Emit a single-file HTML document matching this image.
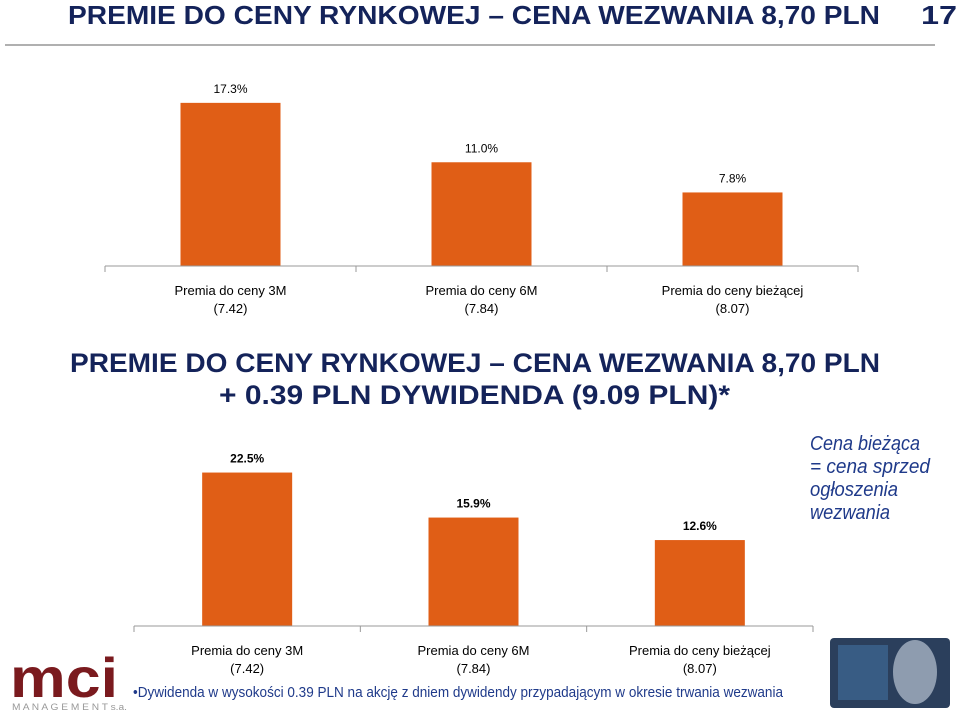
<!DOCTYPE html>
<html><head><meta charset="utf-8">
<style>
html,body{margin:0;padding:0;background:#fff;}
svg{display:block;font-family:"Liberation Sans",sans-serif;}
</style></head>
<body>
<svg id="slide" width="960" height="715" viewBox="0 0 960 715">
  <text x="68" y="24" font-size="26" font-weight="bold" fill="#14235a" textLength="812" lengthAdjust="spacingAndGlyphs">PREMIE DO CENY RYNKOWEJ – CENA WEZWANIA 8,70 PLN</text>
  <text x="921" y="24" font-size="26" font-weight="bold" fill="#14235a" textLength="36" lengthAdjust="spacingAndGlyphs">17</text>
  <line x1="5" y1="45" x2="935" y2="45" stroke="#b0b0b0" stroke-width="2"/>

  <g id="chart1"></g>

  <text x="70" y="372" font-size="27" font-weight="bold" fill="#14235a" textLength="810" lengthAdjust="spacingAndGlyphs">PREMIE DO CENY RYNKOWEJ – CENA WEZWANIA 8,70 PLN</text>
  <text x="219" y="404" font-size="27" font-weight="bold" fill="#14235a" textLength="511" lengthAdjust="spacingAndGlyphs">+ 0.39 PLN DYWIDENDA (9.09 PLN)*</text>

  <g id="chart2"></g>

  <g font-style="italic" font-size="20" fill="#1f3a8a">
    <text x="810" y="450" textLength="110" lengthAdjust="spacingAndGlyphs">Cena bieżąca</text>
    <text x="810" y="473" textLength="120" lengthAdjust="spacingAndGlyphs">= cena sprzed</text>
    <text x="810" y="496" textLength="88" lengthAdjust="spacingAndGlyphs">ogłoszenia</text>
    <text x="810" y="519" textLength="80" lengthAdjust="spacingAndGlyphs">wezwania</text>
  </g>

  <g>
    <text x="10" y="697" font-size="56" font-weight="bold" fill="#7a1a1e" textLength="108" lengthAdjust="spacingAndGlyphs">mci</text>
    <text x="12" y="710" font-size="9" fill="#999" textLength="115" lengthAdjust="spacingAndGlyphs">M A N A G E M E N T s.a.</text>
  </g>
  <text x="133" y="697" font-size="15" fill="#1f3a8a" textLength="650" lengthAdjust="spacingAndGlyphs">•Dywidenda w wysokości 0.39 PLN na akcję z dniem dywidendy przypadającym w okresie trwania wezwania</text>

  <g>
    <rect x="830" y="638" width="120" height="70" rx="4" fill="#2b3f5c"/>
    <rect x="838" y="645" width="50" height="55" fill="#3f6a95" opacity="0.7"/>
    <ellipse cx="915" cy="672" rx="22" ry="32" fill="#a8b4c4" opacity="0.8"/>
  </g>
</svg>
<script>
const cats = ["Premia do ceny 3M", "Premia do ceny 6M", "Premia do ceny bieżącej"];
const prices = ["(7.42)", "(7.84)", "(8.07)"];
const values1 = [17.3, 11.0, 7.8];
const values2 = [22.5, 15.9, 12.6];
const labels1 = ["17.3%", "11.0%", "7.8%"];
const labels2 = ["22.5%", "15.9%", "12.6%"];

const NS = "http://www.w3.org/2000/svg";
function mk(tag, attrs, parent){const e=document.createElementNS(NS,tag);for(const k in attrs)e.setAttribute(k,attrs[k]);parent.appendChild(e);return e;}

function draw(gid, vals, labs, o){
  const g=document.getElementById(gid);
  const step=(o.x1-o.x0)/cats.length;
  const xC=i=>o.x0+step*(i+0.5);
  const yV=v=>o.base-v*o.scale;
  vals.forEach((v,i)=>{
    const r=mk("rect",{x:xC(i)-o.bw/2,y:yV(v),width:o.bw,height:o.base-yV(v),fill:"#e05e16"},g);
    
    
    const t=mk("text",{x:xC(i),y:yV(v)-10,"text-anchor":"middle","font-size":12,"font-weight":o.bold?"bold":"normal",fill:"#000"},g);
    t.textContent=labs[i];
    
    
  });
  const ax=mk("line",{x1:o.x0,y1:o.base,x2:o.x1,y2:o.base,stroke:"#999","stroke-width":1},g);
  
  
  for(let i=0;i<=cats.length;i++){
    const tk=mk("line",{x1:o.x0+step*i,y1:o.base,x2:o.x0+step*i,y2:o.base+6,stroke:"#999"},g);
    
    
  }
  cats.forEach((c,i)=>{
    const t=mk("text",{x:xC(i),y:o.base+29,"text-anchor":"middle","font-size":13,fill:"#000"},g);
    t.textContent=c;
    
    
    const p=mk("text",{x:xC(i),y:o.base+47,"text-anchor":"middle","font-size":13,fill:"#000"},g);
    p.textContent=prices[i];
    
    
  });
}
draw("chart1",values1,labels1,{x0:105,x1:858,base:266,scale:9.43,bw:100,bold:false});
draw("chart2",values2,labels2,{x0:134,x1:813,base:626,scale:6.82,bw:90,bold:true});
</script>
</body></html>
